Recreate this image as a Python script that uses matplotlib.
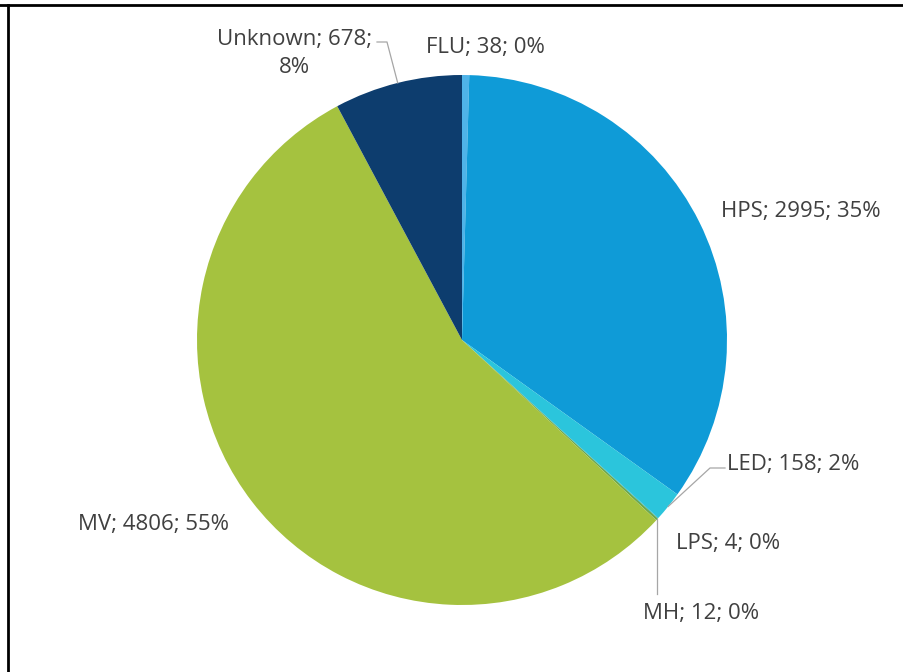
import numpy as np
import matplotlib
matplotlib.use('Agg')
import matplotlib.pyplot as plt
from matplotlib.lines import Line2D

# Lamp types and counts
labels = ['FLU', 'HPS', 'LED', 'LPS', 'MH', 'MV', 'Unknown']
counts = [38, 2995, 158, 4, 12, 4806, 678]
pct_text = ['0%', '35%', '2%', '0%', '0%', '55%', '8%']
colors = ['#4fb3e8', '#0f9bd7', '#2bc5dc', '#1fb8cf', '#6aa84f', '#a5c23f', '#0d3d6e']

W, H = 904, 672
CX, CY, R = 462, 340, 265   # pie centre / radius in pixels

def px(x, y):
    return (x - CX) / R, (CY - y) / R

fig = plt.figure(figsize=(W / 100, H / 100), dpi=100)
ax = fig.add_axes([0, 0, 1, 1])
wedges, _ = ax.pie(counts, colors=colors, startangle=90, counterclock=False,
                   radius=1, center=(0, 0), wedgeprops=dict(linewidth=0))
x0, y0 = px(0, 0)
x1, y1 = px(W, H)
ax.set_xlim(x0, x1)
ax.set_ylim(y1, y0)
ax.set_aspect('equal')
ax.axis('off')

def anchor(i):
    w = wedges[i]
    th = np.deg2rad((w.theta1 + w.theta2) / 2)
    return np.cos(th), np.sin(th)

txt = dict(fontsize=16, color='#404040', family='Open Sans', va='baseline')
LEAD = '#a6a6a6'

def lbl(i):
    return f'{labels[i]}; {counts[i]}; {pct_text[i]}'

# label positions (pixels, baseline)
ax.text(*px(295, 45), f'{labels[6]}; {counts[6]};', ha='center', **txt)
ax.text(*px(294, 73), pct_text[6], ha='center', **txt)
ax.text(*px(485, 53), lbl(0), ha='center', **txt)
ax.text(*px(801, 217), lbl(1), ha='center', **txt)
ax.text(*px(727, 470), lbl(2), ha='left', **txt)
ax.text(*px(728, 549), lbl(3), ha='center', **txt)
ax.text(*px(701, 619), lbl(4), ha='center', **txt)
ax.text(*px(154, 530), lbl(5), ha='center', **txt)

# leader lines
ax_, ay_ = anchor(6)
p1, p2 = px(377, 42), px(387, 42)
ax.plot([p1[0], p2[0], ax_], [p1[1], p2[1], ay_], color=LEAD, lw=0.9)
ax_, ay_ = anchor(2)
p1, p2 = px(725, 468), px(710, 468)
ax.plot([p1[0], p2[0], ax_], [p1[1], p2[1], ay_], color=LEAD, lw=0.9)
ax_, ay_ = anchor(4)
p1 = px(0, 594)
ax.plot([ax_, ax_], [ay_, p1[1]], color=LEAD, lw=0.9)

# frame edges at top and left
fig.add_artist(Line2D([0, 1], [1 - 5 / H, 1 - 5 / H], color='black', lw=2, transform=fig.transFigure))
fig.add_artist(Line2D([8 / W, 8 / W], [0, 1 - 5 / H], color='black', lw=2, transform=fig.transFigure))

fig.savefig('out.png', dpi=100, facecolor='white')
